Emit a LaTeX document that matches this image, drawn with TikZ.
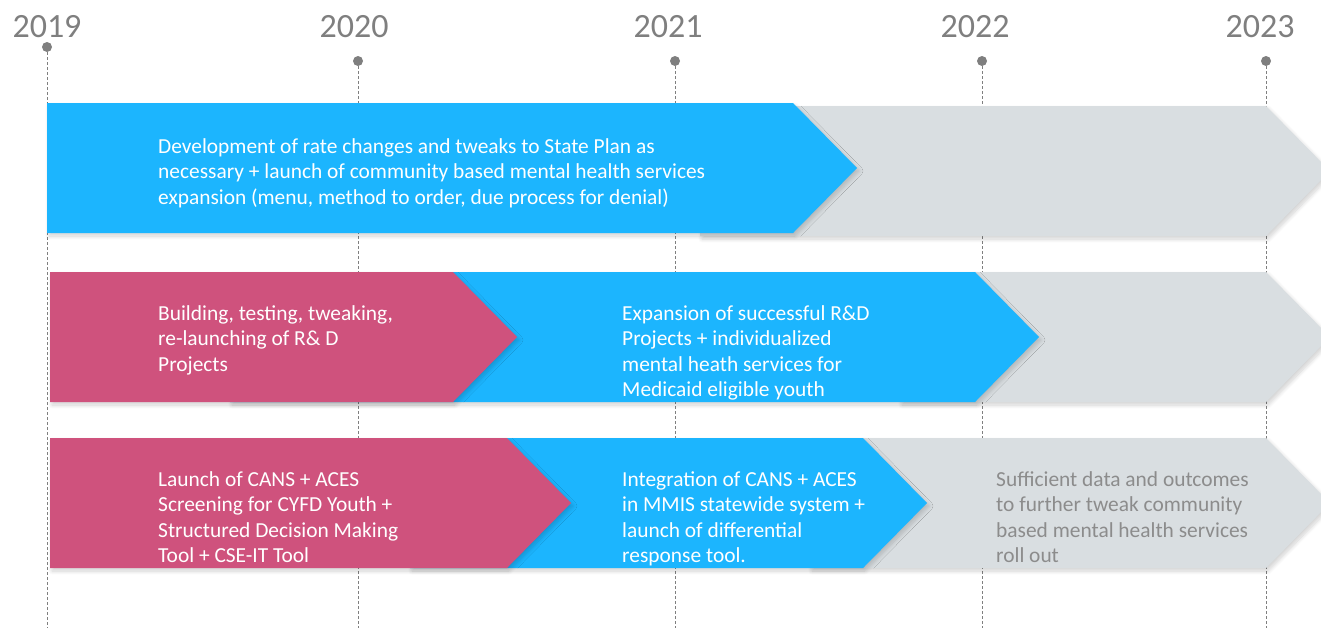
\documentclass[tikz,border=0pt]{standalone}
\usepackage{fontspec}
\setmainfont{Carlito}
\usetikzlibrary{shadows, shadows.blur, positioning}
\definecolor{capblue}{RGB}{28,181,254}
\definecolor{cappink}{RGB}{207,82,125}
\definecolor{capgrey}{RGB}{217,222,225}
\definecolor{yeargrey}{RGB}{127,127,127}
\definecolor{notegrey}{RGB}{140,140,140}
\tikzset{
    chev/.style={blur shadow={shadow xshift=2pt, shadow yshift=-3pt, shadow blur radius=4pt, shadow blur steps=8, shadow opacity=18}},
    yearline/.style={yeargrey, dash pattern=on 3pt off 2pt, line width=0.8pt},
    dot/.style={circle, fill=yeargrey, inner sep=0pt, minimum size=10pt},
    year/.style={text=yeargrey, font=\fontsize{34}{34}\selectfont, anchor=base, inner sep=0pt},
    txt/.style={text=white, align=left, anchor=base west, inner sep=0pt, font=\fontsize{21.4}{25.5}\selectfont}
}
\begin{document}
\begin{tikzpicture}[x=1pt, y=-1pt]
    \def \h {130}
    \def \d {64}
    \useasboundingbox (0,0) rectangle (1321,630);
    \clip (0,0) rectangle (1321,630);
    \foreach \yr/\x/\y/\tx [count=\i] in {2019/47/47/47, 2020/358/61/354, 2021/675/61/668, 2022/982/61/975, 2023/1266/61/1260}{
    \node[year] (t\i) at (\tx,37) {\yr};
    \node[dot] (d\i) at (\x,\y) {};
    \coordinate (e\i) at (\x,628);
    \draw[yearline] (d\i) -- (e\i);
    }
    \foreach \a/\s/\t/\c in {700/1266/106/capgrey, 47/793/103/capblue,
                            900/1266/272/capgrey, 230/975/272/capblue, 50/453/272/cappink,
                            810/1266/438/capgrey, 410/863/438/capblue, 50/507/438/cappink}{
    \fill[chev, \c] (\a,\t) -- (\s,\t) -- ({\s+\d},{\t+\h/2}) -- (\s,{\t+\h}) -- (\a,{\t+\h}) -- cycle;
    }
    % base anchor sits on the last line
    \node[txt] (r1) at (158,204) {Development of rate changes and tweaks to State Plan as\\necessary + launch of community based mental health services\\expansion (menu, method to order, due process for denial)};
    \node[txt] (p2) at (158,371) {Building, testing, tweaking,\\re-launching of R\& D\\Projects};
    \node[txt] (b2) at (622,396.5) {Expansion of successful R\&D\\Projects + individualized\\mental heath services for\\Medicaid eligible youth};
    \node[txt] (p3) at (158,562.5) {Launch of CANS + ACES\\Screening for CYFD Youth +\\Structured Decision Making\\Tool + CSE-IT Tool};
    \node[txt] (b3) at (622,562.5) {Integration of CANS + ACES\\in MMIS statewide system +\\launch of differential\\response tool.};
    \node[txt, text=notegrey] (g3) at (996,562.5) {Sufficient data and outcomes\\to further tweak community\\based mental health services\\roll out};
\end{tikzpicture}
\end{document}
